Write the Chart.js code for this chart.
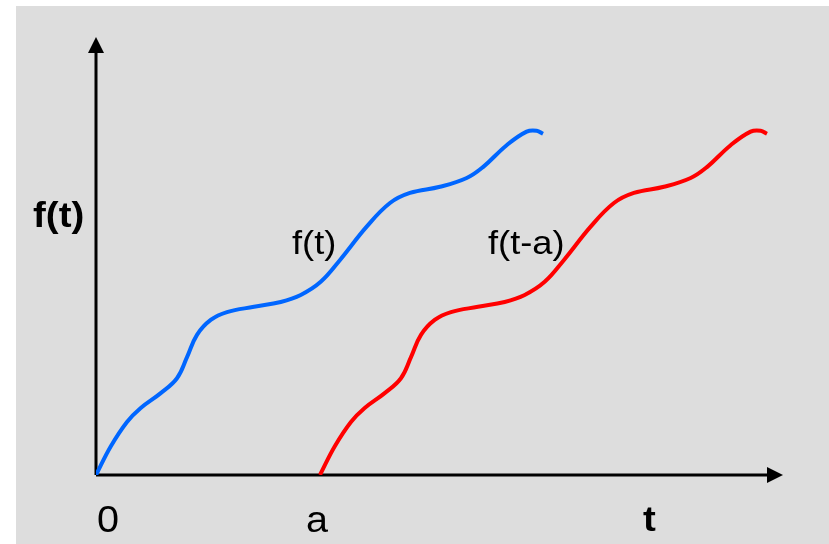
<!DOCTYPE html>
<html>
<head>
<meta charset="utf-8">
<script src="https://cdn.jsdelivr.net/npm/chart.js@4.4.0/dist/chart.umd.min.js"></script>
<style>
  html, body { margin: 0; padding: 0; background: #ffffff; }
  #wrap { width: 829px; height: 544px; }
</style>
</head>
<body>
<div id="wrap"><canvas id="myChart" width="829" height="544"></canvas></div>
<script>
// f(t): a wavy, rising signal
const tValues = [0, 0.214, 0.451, 0.651, 0.942, 1.179, 1.325, 1.470, 1.670, 1.907, 2.300, 2.689,
    2.980, 3.271, 3.552, 3.940, 4.279, 4.570, 5.007, 5.396, 5.633, 5.978, 6.269, 6.415, 6.507];
const fValues = [0, 0.65, 1.21, 1.53, 1.87, 2.21, 2.69, 3.20, 3.54, 3.72, 3.84, 3.95,
    4.11, 4.41, 4.91, 5.67, 6.21, 6.44, 6.58, 6.78, 7.03, 7.53, 7.84, 7.86, 7.79];

// f(t-a): same shape, starting at t = a
const shiftedT = [3.26, 3.474, 3.711, 3.911, 4.202, 4.439, 4.585, 4.730, 4.930, 5.167, 5.560, 5.949,
    6.240, 6.531, 6.812, 7.200, 7.539, 7.830, 8.267, 8.656, 8.893, 9.238, 9.529, 9.675, 9.767];
const shiftValue = 3.26;

const tickLabels = ['0', 'a', 't'];

const toPoints = (xs, ys) => xs.map((x, i) => ({ x: x, y: ys[i] }));

// background, arrowed axes and the hand-placed labels
const axesPlugin = {
    id: 'axesPlugin',
    beforeDraw(chart) {
        const ctx = chart.ctx;
        ctx.save();
        ctx.fillStyle = '#dddddd';
        ctx.fillRect(16, 6, chart.width - 16, chart.height - 6);
        ctx.restore();
    },
    beforeDatasetsDraw(chart) {
        const ctx = chart.ctx;
        const xs = chart.scales.x, ys = chart.scales.y;
        const x0 = xs.getPixelForValue(0), y0 = ys.getPixelForValue(0);
        const xEnd = xs.getPixelForValue(10), yEnd = ys.getPixelForValue(10);
        ctx.save();
        ctx.strokeStyle = '#000';
        ctx.fillStyle = '#000';
        ctx.lineWidth = 3;
        ctx.beginPath();
        ctx.moveTo(x0, y0);
        ctx.lineTo(x0, yEnd + 15);
        ctx.moveTo(x0, y0);
        ctx.lineTo(xEnd - 15, y0);
        ctx.stroke();
        // arrow heads
        ctx.beginPath();
        ctx.moveTo(x0, yEnd);
        ctx.lineTo(x0 - 8, yEnd + 16);
        ctx.lineTo(x0 + 8, yEnd + 16);
        ctx.closePath();
        ctx.fill();
        ctx.beginPath();
        ctx.moveTo(xEnd, y0);
        ctx.lineTo(xEnd - 16, y0 - 8);
        ctx.lineTo(xEnd - 16, y0 + 8);
        ctx.closePath();
        ctx.fill();
        ctx.restore();
    },
    afterDatasetsDraw(chart) {
        const ctx = chart.ctx;
        const xs = chart.scales.x, ys = chart.scales.y;
        const text = (str, x, y, font) => {
            ctx.save();
            ctx.font = font;
            ctx.fillStyle = '#000';
            ctx.textBaseline = 'alphabetic';
            ctx.translate(x, y);
            ctx.scale(1.1, 1);
            ctx.fillText(str, 0, 0);
            ctx.restore();
        };
        const base = ys.getPixelForValue(0);
        text('f(t)', 33, 227, 'bold 35px "Liberation Sans", Arial, sans-serif');
        text('f(t)', 292, 254, '33px "Liberation Sans", Arial, sans-serif');
        text('f(t-a)', 488, 254, '33px "Liberation Sans", Arial, sans-serif');
        text(tickLabels[0], xs.getPixelForValue(0) + 1, base + 57, '36px "Liberation Sans", Arial, sans-serif');
        text(tickLabels[1], xs.getPixelForValue(shiftValue) - 14, base + 57, '36px "Liberation Sans", Arial, sans-serif');
        text(tickLabels[2], 643, base + 56, 'bold 35px "Liberation Sans", Arial, sans-serif');
    }
};

const data = {
    datasets: [{
        label: 'f(t)',
        data: toPoints(tValues, fValues),
        borderColor: '#0066ff',
        borderWidth: 4,
        pointRadius: 0,
        tension: 0.4,
        fill: false
    }, {
        label: 'f(t-a)',
        data: toPoints(shiftedT, fValues),
        borderColor: '#ff0000',
        borderWidth: 4,
        pointRadius: 0,
        tension: 0.4,
        fill: false
    }]
};

const config = {
    type: 'line',
    data: data,
    plugins: [axesPlugin],
    options: {
        responsive: false,
        animation: false,
        layout: {
            padding: { left: 96, right: 46, top: 37, bottom: 69 }
        },
        plugins: {
            legend: { display: false },
            tooltip: { enabled: false }
        },
        scales: {
            x: { type: 'linear', min: 0, max: 10, display: false },
            y: { type: 'linear', min: 0, max: 10, display: false }
        }
    }
};

const myChart = new Chart(document.getElementById('myChart'), config);
</script>
</body>
</html>
